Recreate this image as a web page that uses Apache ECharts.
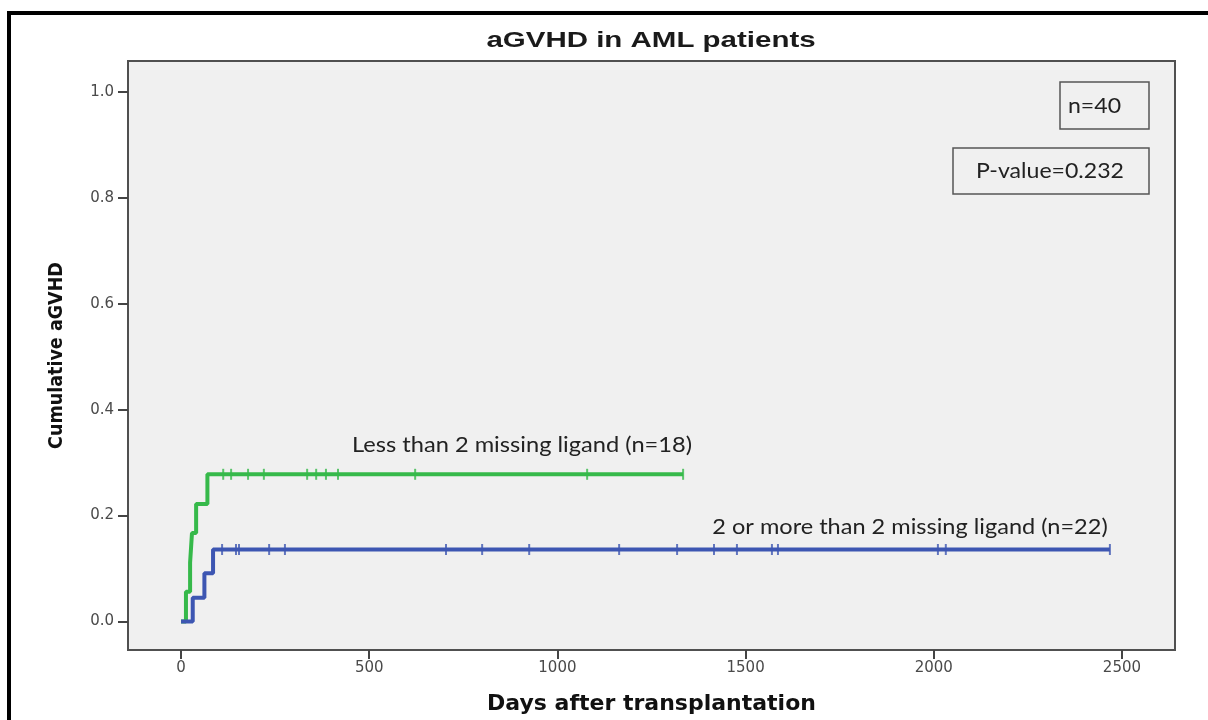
<!DOCTYPE html>
<html>
<head>
<meta charset="utf-8">
<script src="https://cdn.jsdelivr.net/npm/echarts@6/dist/echarts.min.js"></script>
<style>
html,body{margin:0;padding:0;background:#fff;}
#chart{width:1208px;height:720px;}
</style>
</head>
<body>
<div id="chart"></div>
<script>
// ---- data ----
const chartTitle = 'aGVHD in AML patients';
const xAxisName = 'Days after transplantation';
const yAxisName = 'Cumulative aGVHD';
const xTickValues = [0, 500, 1000, 1500, 2000, 2500];
const yTickValues = [0, 0.2, 0.4, 0.6, 0.8, 1.0];

const lessName = 'Less than 2 missing ligand (n=18)';
const lessStepDays = [0, 13, 24, 29, 40, 70, 1334];
const lessStepValues = [0, 0.056, 0.111, 0.167, 0.222, 0.278, 0.278];
const lessCensorDays = [112, 133, 178, 220, 335, 359, 385, 417, 622, 1079, 1334];

const moreName = '2 or more than 2 missing ligand (n=22)';
const moreStepDays = [0, 31, 62, 85, 2468];
const moreStepValues = [0, 0.045, 0.091, 0.136, 0.136];
const moreCensorDays = [109, 146, 154, 234, 276, 704, 800, 925, 1164, 1318, 1416, 1477, 1570, 1586, 2011, 2032, 2468];

const nLabel = 'n=40';
const pLabel = 'P-value=0.232';

// ---- helpers ----
function stepValueAt(days, values, d) {
  let v = values[0];
  for (let i = 0; i < days.length; i++) { if (days[i] <= d) v = values[i]; }
  return v;
}
const lessLine = lessStepDays.map((d, i) => [d, lessStepValues[i]]);
const moreLine = moreStepDays.map((d, i) => [d, moreStepValues[i]]);
const lessCensor = lessCensorDays.map(d => [d, stepValueAt(lessStepDays, lessStepValues, d)]);
const moreCensor = moreCensorDays.map(d => [d, stepValueAt(moreStepDays, moreStepValues, d)]);

const GREEN = '#36b94a';
const BLUE = '#3d56b2';
const labelFont = 'Lato, "Liberation Sans", sans-serif';
const tickFont = '"DejaVu Sans", sans-serif';

const chart = echarts.init(document.getElementById('chart'), null, {renderer: 'canvas'});
chart.setOption({
  animation: false,
  backgroundColor: '#ffffff',
  grid: {
    left: 128, top: 61, width: 1047, height: 589,
    show: true, backgroundColor: '#f0f0f0', borderColor: '#505050', borderWidth: 2
  },
  xAxis: {
    type: 'value', min: -141, max: 2641,
    name: xAxisName, nameLocation: 'middle', nameGap: 43,
    nameTextStyle: {fontFamily: '"DejaVu Sans", sans-serif', fontWeight: 'bold', fontSize: 22, color: '#111'},
    axisLine: {show: false, onZero: false},
    axisTick: {show: true, length: 9, lineStyle: {color: '#444', width: 2}, customValues: xTickValues},
    axisLabel: {show: true, margin: 11, color: '#4a4a4a', fontSize: 15, fontFamily: tickFont,
      customValues: xTickValues, formatter: v => String(v)},
    splitLine: {show: false}
  },
  yAxis: {
    type: 'value', min: -0.0538, max: 1.0585,
    name: yAxisName, nameLocation: 'middle', nameGap: 61, nameRotate: 90,
    nameTextStyle: {fontFamily: '"Liberation Sans Narrow", "DejaVu Sans Condensed", sans-serif', fontWeight: 'bold', fontSize: 19.5, color: '#111'},
    axisLine: {show: false, onZero: false},
    axisTick: {show: true, length: 10, lineStyle: {color: '#444', width: 2}, customValues: yTickValues},
    axisLabel: {show: true, margin: 14, color: '#4a4a4a', fontSize: 15, fontFamily: tickFont,
      customValues: yTickValues, formatter: v => v.toFixed(1)},
    splitLine: {show: false}
  },
  series: [
    {name: lessName, type: 'line', step: 'end', data: lessLine, showSymbol: false, symbol: 'none',
      lineStyle: {color: GREEN, width: 4}, z: 3},
    {name: lessName + ' censored', type: 'scatter', data: lessCensor, symbol: 'rect', symbolSize: [2, 11],
      itemStyle: {color: GREEN}, z: 4},
    {name: moreName, type: 'line', step: 'end', data: moreLine, showSymbol: false, symbol: 'none',
      lineStyle: {color: BLUE, width: 4}, z: 3},
    {name: moreName + ' censored', type: 'scatter', data: moreCensor, symbol: 'rect', symbolSize: [2, 11],
      itemStyle: {color: BLUE}, z: 4}
  ],
  graphic: [
    {type: 'rect', shape: {x: 9, y: 13, width: 1220, height: 740}, style: {fill: 'none', stroke: '#000', lineWidth: 4}, z: 100},
    {type: 'text', x: 651, y: 41, scaleX: 1.34,
      style: {text: chartTitle, fill: '#1a1a1a', font: 'bold 22px "Liberation Sans", Arial, sans-serif', align: 'center', verticalAlign: 'middle'}, z: 100},
    {type: 'rect', shape: {x: 1060, y: 82, width: 89, height: 47}, style: {fill: 'none', stroke: '#555', lineWidth: 1.5}, z: 100},
    {type: 'text', x: 1094.5, y: 106, scaleX: 1.05,
      style: {text: nLabel, fill: '#222', font: '22px ' + labelFont, align: 'center', verticalAlign: 'middle'}, z: 100},
    {type: 'rect', shape: {x: 953, y: 148, width: 196, height: 46}, style: {fill: 'none', stroke: '#555', lineWidth: 1.5}, z: 100},
    {type: 'text', x: 1050, y: 171, scaleX: 1.05,
      style: {text: pLabel, fill: '#222', font: '22px ' + labelFont, align: 'center', verticalAlign: 'middle'}, z: 100},
    {type: 'text', x: 522, y: 445, scaleX: 1.075,
      style: {text: lessName, fill: '#222', font: '22px ' + labelFont, align: 'center', verticalAlign: 'middle'}, z: 100},
    {type: 'text', x: 910, y: 527, scaleX: 1.07,
      style: {text: moreName, fill: '#222', font: '22px ' + labelFont, align: 'center', verticalAlign: 'middle'}, z: 100}
  ]
});
</script>
</body>
</html>
